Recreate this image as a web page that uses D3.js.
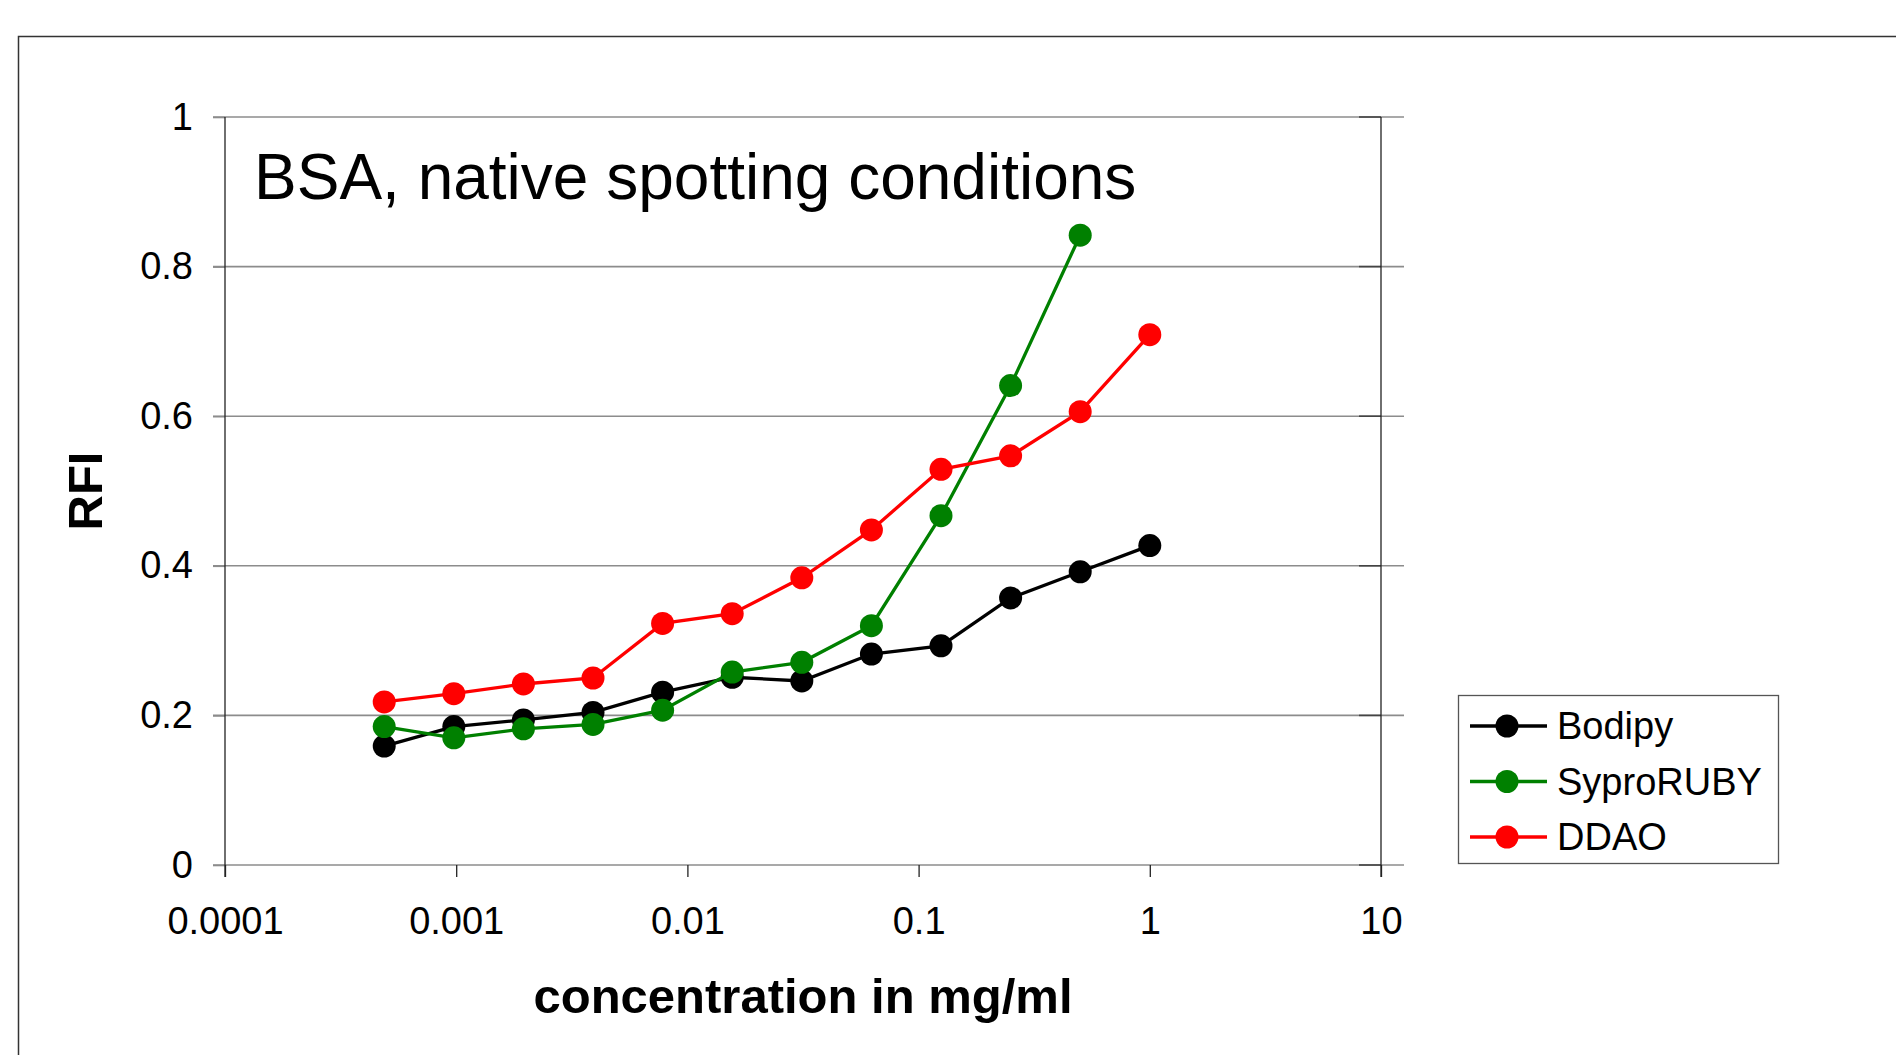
<!DOCTYPE html>
<html>
<head>
<meta charset="utf-8">
<script src="https://cdn.jsdelivr.net/npm/d3@7"></script>
<style>
  body { margin: 0; background: #fff; }
  svg { display: block; font-family: "Liberation Sans", Arial, sans-serif; }
</style>
</head>
<body>
<svg id="chart" width="1896" height="1055"></svg>
<script>
// concentrations in mg/ml (two-fold dilution series)
const concentrations = [0.00048828125, 0.0009765625, 0.001953125, 0.00390625, 0.0078125,
  0.015625, 0.03125, 0.0625, 0.125, 0.25, 0.5, 1];
const bodipy = [0.159, 0.185, 0.194, 0.204, 0.231, 0.251, 0.246, 0.282, 0.293, 0.357, 0.392, 0.427];
const syproRuby = [0.185, 0.170, 0.182, 0.188, 0.207, 0.258, 0.271, 0.320, 0.467, 0.641, 0.842];
const ddao = [0.218, 0.229, 0.242, 0.250, 0.323, 0.336, 0.384, 0.448, 0.529, 0.547, 0.606, 0.709];

const seriesNames = ["Bodipy", "SyproRUBY", "DDAO"];
const seriesColors = ["#000000", "#008000", "#ff0000"];
const seriesValues = [bodipy, syproRuby, ddao];

const xTicks = [0.0001, 0.001, 0.01, 0.1, 1, 10];
const xLabels = ["0.0001", "0.001", "0.01", "0.1", "1", "10"];
const yTicks = [0, 0.2, 0.4, 0.6, 0.8, 1];
const yLabels = ["0", "0.2", "0.4", "0.6", "0.8", "1"];

const svg = d3.select("#chart");
const plotLeft = 225, plotRight = 1381, plotTop = 117, plotBottom = 865;

let x = d3.scaleLog().domain([0.0001, 10]).range([plotLeft, plotRight]);
let y = d3.scaleLinear().domain([0, 1]).range([plotBottom, plotTop]);

// outer frame, runs off the page to the right and bottom
svg.append("rect")
  .attr("x", 18.5).attr("y", 36.5)
  .attr("width", 2000).attr("height", 1100)
  .attr("fill", "none").attr("stroke", "#333").attr("stroke-width", 1.5);

// gridlines
svg.append("g").selectAll("line").data(yTicks).join("line")
  .attr("x1", plotLeft - 12).attr("x2", plotRight + 23)
  .attr("y1", d => y(d)).attr("y2", d => y(d))
  .attr("stroke", "#8c8c8c").attr("stroke-width", 1.6);

// inner ticks on the right edge
svg.append("g").selectAll("line").data(yTicks).join("line")
  .attr("x1", plotRight - 22).attr("x2", plotRight)
  .attr("y1", d => y(d)).attr("y2", d => y(d))
  .attr("stroke", "#444").attr("stroke-width", 1.6);

// y axis
let yAxis = svg.append("g")
  .attr("transform", "translate(" + plotLeft + ",0)")
  .call(d3.axisLeft(y).tickValues(yTicks).tickFormat((d, i) => yLabels[i]).tickSize(12).tickPadding(20));
yAxis.select(".domain").remove();
yAxis.selectAll(".tick line").attr("stroke", "#8c8c8c").attr("stroke-width", 1.6);
yAxis.selectAll("text").style("font-size", "38px").attr("fill", "#000");

// x axis
let xAxis = svg.append("g")
  .attr("transform", "translate(0," + plotBottom + ")")
  .call(d3.axisBottom(x).tickValues(xTicks).tickFormat((d, i) => xLabels[i]).tickSize(12).tickPadding(30));
xAxis.select(".domain").remove();
xAxis.selectAll(".tick line").attr("stroke", "#222").attr("stroke-width", 1.3);
xAxis.selectAll("text").style("font-size", "38px").attr("fill", "#000");

// vertical frame lines of the plot
svg.append("line").attr("x1", plotLeft).attr("x2", plotLeft).attr("y1", plotTop).attr("y2", plotBottom + 12)
  .attr("stroke", "#222").attr("stroke-width", 1.3);
svg.append("line").attr("x1", plotRight).attr("x2", plotRight).attr("y1", plotTop).attr("y2", plotBottom + 12)
  .attr("stroke", "#222").attr("stroke-width", 1.3);

// series
let line = d3.line().x(d => x(d[0])).y(d => y(d[1]));
seriesValues.forEach(function (vals, k) {
  let pts = vals.map((v, i) => [concentrations[i], v]);
  let g = svg.append("g");
  g.append("path").datum(pts).attr("d", line)
    .attr("fill", "none").attr("stroke", seriesColors[k]).attr("stroke-width", 3.3);
  g.selectAll("circle").data(pts).join("circle")
    .attr("cx", d => x(d[0])).attr("cy", d => y(d[1])).attr("r", 11.5)
    .attr("fill", seriesColors[k]);
});

// title inside plot
svg.append("text").attr("x", 254).attr("y", 199)
  .style("font-size", "64px").text("BSA, native spotting conditions");

// axis titles
svg.append("text").attr("x", (plotLeft + plotRight) / 2).attr("y", 1013)
  .attr("text-anchor", "middle").style("font-size", "49px").style("font-weight", "bold")
  .text("concentration in mg/ml");
svg.append("text").attr("transform", "translate(102," + (plotTop + plotBottom) / 2 + ") rotate(-90)")
  .attr("text-anchor", "middle").style("font-size", "49px").style("font-weight", "bold")
  .text("RFI");

// legend
let legend = svg.append("g").attr("transform", "translate(1458,695)");
legend.append("rect").attr("x", 0.5).attr("y", 0.5).attr("width", 320).attr("height", 168)
  .attr("fill", "#fff").attr("stroke", "#555").attr("stroke-width", 1.3);
let item = legend.selectAll("g.item").data(seriesNames).join("g")
  .attr("class", "item")
  .attr("transform", (d, i) => "translate(0," + (31 + i * 55.5) + ")");
item.append("line").attr("x1", 12).attr("x2", 89).attr("y1", 0).attr("y2", 0)
  .attr("stroke", (d, i) => seriesColors[i]).attr("stroke-width", 3.3);
item.append("circle").attr("cx", 49).attr("cy", 0).attr("r", 11.5)
  .attr("fill", (d, i) => seriesColors[i]);
item.append("text").attr("x", 99).attr("y", 0).attr("dy", "0.35em")
  .style("font-size", "38px").text(d => d);
</script>
</body>
</html>
